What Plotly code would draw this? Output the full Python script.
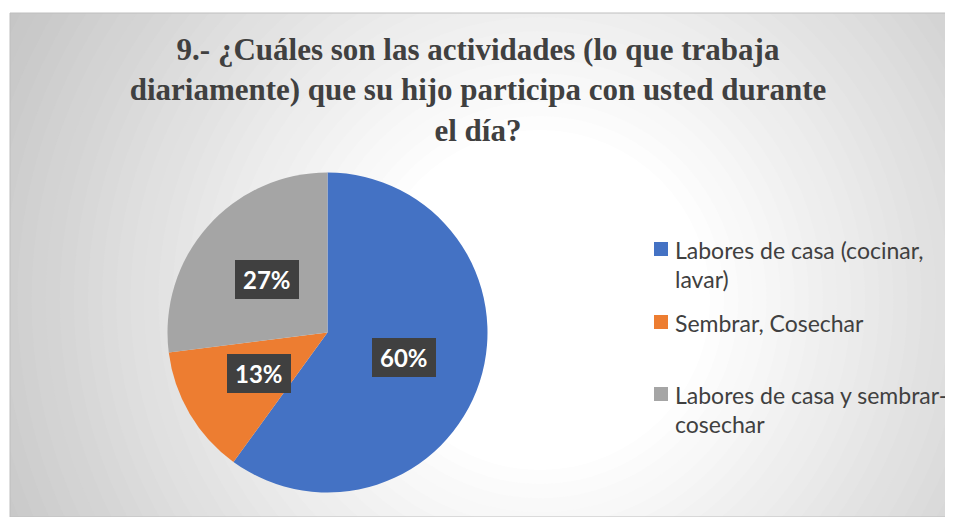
import math
import plotly.graph_objects as go

# ---- data ----
labels = ["Labores de casa (cocinar,<br>lavar)", "Sembrar, Cosechar", "Labores de casa y sembrar-<br>cosechar"]
values = [60, 13, 27]
colors = ["#4472C4", "#ED7D31", "#A5A5A5"]
title_text = "<b>9.- ¿Cuáles son las actividades (lo que trabaja<br>diariamente) que su hijo participa con usted durante<br>el día?</b>"

# page body has an 8px margin: work in viewport pixels and shift
OFF = 8
W, H = 953 - OFF, 517 - OFF


def px(x):
    return (x - OFF) / W


def py(y):
    return 1 - (y - OFF) / H


# chart area rect (viewport pixels)
RX0, RY0, RX1 = 10, 13, 953
RY1 = OFF + H
# pie placement (viewport pixels)
PCX, PCY, PR = 327.5, 332.5, 160

fig = go.Figure()

# invisible cartesian trace to host background gradient shapes
fig.add_trace(go.Scatter(x=[None], y=[None], showlegend=False, hoverinfo="skip"))

fig.add_trace(go.Pie(
    labels=labels,
    values=values,
    marker=dict(colors=colors, line=dict(width=0)),
    sort=False,
    direction="clockwise",
    rotation=0,
    textinfo="none",
    hoverinfo="label+percent",
    showlegend=False,
    domain=dict(x=[px(PCX - PR), px(PCX + PR)],
                y=[py(PCY + PR), py(PCY - PR)]),
))

# radial gradient background
shapes = []
gcx, gcy = 540, 300
r_white, r_gray, g_gray = 170, 620, 196
n = 40
rmax = 720
for i in range(n):
    r = rmax - i * (rmax - r_white) / (n - 1)
    t = min(max((r - r_white) / (r_gray - r_white), 0), 1.2)
    g = int(round(255 - t * (255 - g_gray)))
    g = max(min(g, 255), 180)
    shapes.append(dict(type="circle", xref="x", yref="y", layer="below",
                       x0=gcx - r, x1=gcx + r, y0=gcy - r, y1=gcy + r,
                       fillcolor=f"rgb({g},{g},{g})", line=dict(width=0)))
# chart border
shapes.append(dict(type="rect", xref="paper", yref="paper",
                   x0=px(RX0), x1=1, y0=0, y1=py(RY0),
                   line=dict(color="#BEBEBE", width=1), fillcolor="rgba(0,0,0,0)", layer="above"))

# legend box
LX0, LY0, LX1, LY1 = 643, 226, 948, 447
shapes.append(dict(type="rect", xref="paper", yref="paper",
                   x0=px(LX0), x1=px(LX1), y0=py(LY1), y1=py(LY0),
                   line=dict(width=0), fillcolor="rgba(242,242,242,0.6)", layer="below"))

annotations = []

# data labels at half radius of slice midpoints
total = sum(values)
cum = 0
for v in values:
    mid = (cum + v / 2) / total * 2 * math.pi
    cum += v
    lx = PCX + 0.5 * PR * math.sin(mid)
    ly = PCY - 0.5 * PR * math.cos(mid)
    annotations.append(dict(
        x=px(lx), y=py(ly), xref="paper", yref="paper",
        text=f"\u2009<b>{v / total * 100:.0f}%</b>\u2009", showarrow=False,
        font=dict(family="Lato, Carlito, Calibri, sans-serif", size=24, color="white"),
        bgcolor="#404040", bordercolor="#404040", borderwidth=1, borderpad=4,
        xanchor="center", yanchor="middle"))

# manual legend
item_y = [249, 322, 394]
line_h = 28.5
sq = 14
for lab, col, y0 in zip(labels, colors, item_y):
    shapes.append(dict(type="rect", xref="paper", yref="paper",
                       x0=px(654), x1=px(654 + sq), y0=py(y0 + sq / 2), y1=py(y0 - sq / 2),
                       fillcolor=col, line=dict(width=0)))
    for k, line in enumerate(lab.split("<br>")):
        annotations.append(dict(
            x=px(673), y=py(y0 + k * line_h + 1), xref="paper", yref="paper",
            text=line, showarrow=False, xanchor="left", yanchor="middle",
            font=dict(family="Lato, Carlito, Calibri, sans-serif", size=23, color="#404040")))

fig.update_layout(
    width=W, height=H,
    margin=dict(l=0, r=0, t=0, b=0),
    paper_bgcolor="white",
    plot_bgcolor="rgb(196,196,196)",
    xaxis=dict(domain=[px(RX0), 1], range=[RX0, RX1], visible=False, fixedrange=True),
    yaxis=dict(domain=[0, py(RY0)], range=[RY1, RY0], visible=False, fixedrange=True),
    title=dict(text=title_text, x=px(478), xanchor="center", y=py(60), yanchor="middle",
               font=dict(family="Liberation Serif, Times New Roman, serif", size=31, color="#404040")),
    showlegend=False,
    shapes=shapes,
    annotations=annotations,
)

fig.write_html("out.html")
